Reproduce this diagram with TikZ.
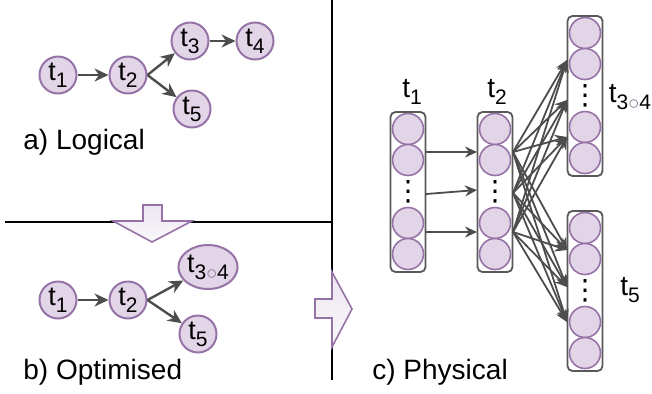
\documentclass[tikz,border=0pt]{standalone}
\usepackage{fontspec}
\setmainfont{Liberation Sans}
\newfontfamily\symbolfont{DejaVu Sans}
\usepackage{xcolor}
\usepackage{tikz}
\usetikzlibrary{positioning,shapes.geometric,arrows.meta}
\definecolor{nodefill}{HTML}{E1D5E7}
\definecolor{nodeline}{HTML}{9673A6}
\definecolor{edgegrey}{HTML}{4D4D4D}
\definecolor{boxgrey}{HTML}{595959}
\newcommand{\tsub}[1]{t\raisebox{-0.5ex}{\fontsize{10.5}{10.5}\selectfont #1}}
\newcommand{\fuse}{3\textcolor{nodeline!60!gray}{$\circ$}4}
\tikzset{
  task/.style={draw=nodeline, fill=nodefill, circle, line width=1pt, minimum size=18.5pt, inner sep=0pt, font=\fontsize{13.5}{13.5}\selectfont},
  fused/.style={task, ellipse, minimum width=28.5pt, minimum height=22pt},
  unit/.style={draw=nodeline, fill=nodefill, circle, line width=0.8pt, minimum size=15.5pt, inner sep=0pt},
  column/.style={draw=boxgrey, rounded corners=2.5pt, line width=0.9pt, minimum width=17.5pt, minimum height=80pt, inner sep=0pt},
  dots/.style={inner sep=0pt, font=\symbolfont\fontsize{14}{14}\selectfont},
  tlabel/.style={inner sep=0pt, font=\fontsize{14}{14}\selectfont},
  caption/.style={anchor=west, inner sep=0pt, font=\fontsize{14}{16}\selectfont},
  edge/.style={-{Stealth[length=7pt,width=6.5pt]}, draw=edgegrey, line width=1.2pt},
  link/.style={-{Stealth[length=6pt,width=5.5pt]}, draw=edgegrey, line width=0.9pt},
  divider/.style={line width=1pt},
  bigarrow/.style={draw=nodeline, line width=0.8pt, top color=nodefill!60, bottom color=nodefill!15}
}
\begin{document}
\begin{tikzpicture}[x=0.5pt,y=-0.5pt]
  \useasboundingbox (0,0) rectangle (652,393);

  % a) logical plan
  \node[task] (lt1) at (58,75) {\tsub{1}};
  \node[task] (lt2) at (128,75) {\tsub{2}};
  \node[task] (lt3) at (190,41) {\tsub{3}};
  \node[task] (lt4) at (255,41) {\tsub{4}};
  \node[task] (lt5) at (192,109) {\tsub{5}};
  \draw[edge] (lt1) -- (lt2);
  \draw[edge] (lt2.east) -- (lt3);
  \draw[edge] (lt3) -- (lt4);
  \draw[edge] (lt2.east) -- (lt5);
  \node[caption] (capa) at (23,142) {a) Logical};

  % b) optimised plan
  \node[task] (ot1) at (58,300) {\tsub{1}};
  \node[task] (ot2) at (128,300) {\tsub{2}};
  \node[fused] (ot34) at (208,267) {\tsub{\fuse}};
  \node[task] (ot5) at (198,334) {\tsub{5}};
  \draw[edge] (ot1) -- (ot2);
  \draw[edge] (ot2.east) -- (ot34);
  \draw[edge] (ot2.east) -- (ot5);
  \node[caption] (capb) at (23,372) {b) Optimised};

  % dividers
  \draw[divider] (5,222) -- (332,222);
  \draw[divider] (332,0) -- (332,380);

  % big arrows
  \draw[bigarrow] (143,205) -- (162,205) -- (162,221) -- (192,221) -- (152,242)
    -- (113,221) -- (143,221) -- cycle;
  \draw[bigarrow] (315,299) -- (332,299) -- (332,272) -- (352,309) -- (332,347)
    -- (332,318) -- (315,318) -- cycle;

  % c) physical plan
  \foreach \col/\cx/\cy in {p1/408/192, p2/495/192, p34/585/96, p5/585/291} {
    \node[column] (\col) at (\cx,\cy) {};
    \foreach \k/\dy in {a/-63, b/-32, d/31, e/62}
      \node[unit] (\col\k) at (\cx,\cy+\dy) {};
    \node[dots] (\col c) at (\cx,\cy) {⋮};
  }
  \node[tlabel] (pl1) at (412,92) {\tsub{1}};
  \node[tlabel] (pl2) at (497,92) {\tsub{2}};
  \node[tlabel] (pl34) at (630,97) {\tsub{\fuse}};
  \node[tlabel] (pl5) at (630,290) {\tsub{5}};

  \foreach \i/\ya/\yb in {1/152/152, 2/194/190, 3/232/232} {
    \coordinate (p1o\i) at (426,\ya);
    \coordinate (p2i\i) at (477,\yb);
    \draw[link] (p1o\i) -- (p2i\i);
  }
  \foreach \i/\y in {1/152, 2/193, 3/232}
    \coordinate (p2o\i) at (513,\y);
  \foreach \j/\y in {1/60, 2/100, 3/137, 4/250, 5/287, 6/322}
    \coordinate (pt\j) at (567,\y);
  \foreach \i in {1,2,3}
    \foreach \j in {1,...,6}
      \draw[link] (p2o\i) -- (pt\j);

  \node[caption] (capc) at (372,372) {c) Physical};
\end{tikzpicture}
\end{document}
